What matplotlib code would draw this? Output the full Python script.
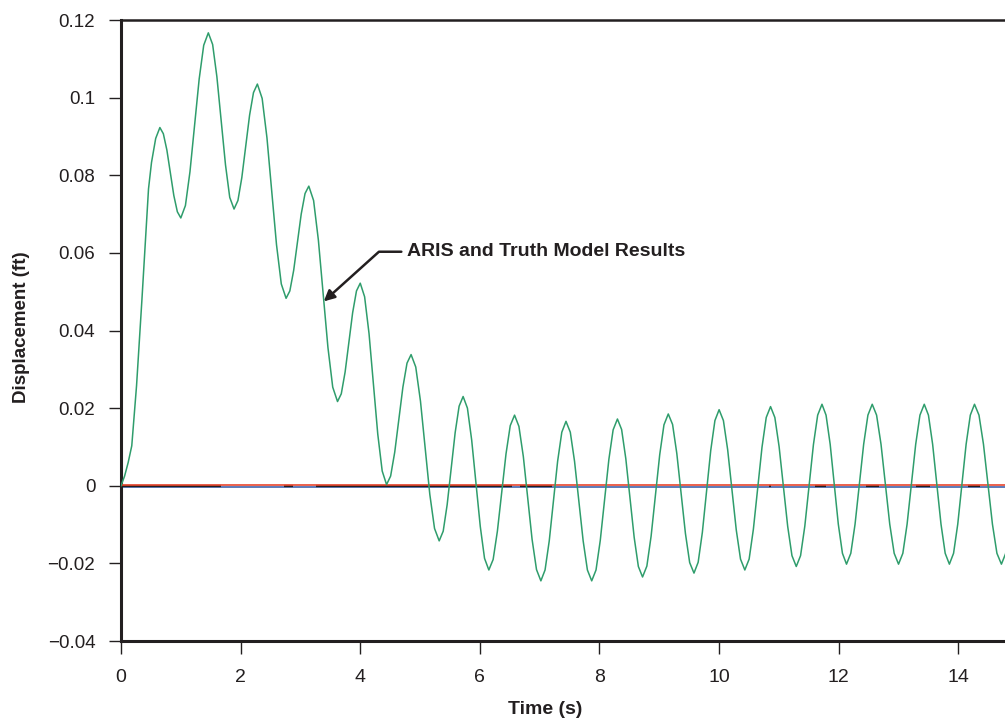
import matplotlib
matplotlib.use("Agg")
import matplotlib.pyplot as plt

# displacement (s, ft)
time = [0.0, 0.06, 0.12, 0.18, 0.26, 0.35, 0.46, 0.51, 0.58, 0.65,
        0.708, 0.767, 0.825, 0.883, 0.942, 1.00,
        1.077, 1.153, 1.23, 1.307, 1.383, 1.46,
        1.532, 1.603, 1.675, 1.747, 1.818, 1.89,
        1.955, 2.02, 2.085, 2.15, 2.215, 2.28,
        2.36, 2.44, 2.52, 2.60, 2.68, 2.76,
        2.823, 2.887, 2.95, 3.013, 3.077, 3.14,
        3.22, 3.30, 3.38, 3.46, 3.54, 3.62,
        3.683, 3.747, 3.81, 3.873, 3.937, 4.0,
        4.073, 4.147, 4.22, 4.293, 4.367, 4.44,
        4.508, 4.577, 4.645, 4.713, 4.782, 4.85,
        4.928, 5.007, 5.085, 5.163, 5.242, 5.32,
        5.387, 5.453, 5.52, 5.587, 5.653, 5.72,
        5.792, 5.863, 5.935, 6.007, 6.078, 6.15,
        6.222, 6.293, 6.365, 6.437, 6.508, 6.58,
        6.653, 6.727, 6.80, 6.873, 6.947, 7.02,
        7.09, 7.16, 7.23, 7.30, 7.37, 7.44,
        7.512, 7.583, 7.655, 7.727, 7.798, 7.87,
        7.942, 8.013, 8.085, 8.157, 8.228, 8.30,
        8.37, 8.44, 8.51, 8.58, 8.65, 8.72,
        8.792, 8.863, 8.935, 9.007, 9.078, 9.15,
        9.222, 9.293, 9.365, 9.437, 9.508, 9.58,
        9.65, 9.72, 9.79, 9.86, 9.93, 10.0,
        10.072, 10.143, 10.215, 10.287, 10.358, 10.43,
        10.502, 10.573, 10.645, 10.717, 10.788, 10.86,
        10.932, 11.003, 11.075, 11.147, 11.218, 11.29,
        11.362, 11.433, 11.505, 11.577, 11.648, 11.72,
        11.788, 11.857, 11.925, 11.993, 12.062, 12.13,
        12.202, 12.273, 12.345, 12.417, 12.488, 12.56,
        12.633, 12.707, 12.78, 12.853, 12.927, 13.0,
        13.072, 13.143, 13.215, 13.287, 13.358, 13.43,
        13.50, 13.57, 13.64, 13.71, 13.78, 13.85,
        13.92, 13.99, 14.06, 14.13, 14.20, 14.27,
        14.345, 14.42, 14.495, 14.57, 14.645, 14.72,
        14.79, 14.86]

disp = [0.0, 0.0025, 0.0060, 0.0103, 0.0258, 0.0480, 0.0765, 0.0833, 0.0895, 0.0923,
        0.0907, 0.0865, 0.0807, 0.0748, 0.0706, 0.0690,
        0.0722, 0.0809, 0.0929, 0.1048, 0.1135, 0.1167,
        0.1137, 0.1054, 0.0940, 0.0827, 0.0743, 0.0713,
        0.0735, 0.0794, 0.0874, 0.0955, 0.1013, 0.1035,
        0.0998, 0.0897, 0.0759, 0.0621, 0.0520, 0.0483,
        0.0502, 0.0555, 0.0628, 0.0700, 0.0753, 0.0772,
        0.0735, 0.0633, 0.0495, 0.0356, 0.0254, 0.0217,
        0.0237, 0.0293, 0.0370, 0.0446, 0.0502, 0.0522,
        0.0487, 0.0392, 0.0263, 0.0133, 0.0038, 0.0003,
        0.0025, 0.0087, 0.0171, 0.0254, 0.0316, 0.0338,
        0.0306, 0.0218, 0.0098, -0.0022, -0.0110, -0.0142,
        -0.0117, -0.0049, 0.0044, 0.0137, 0.0205, 0.0230,
        0.0200, 0.0118, 0.0007, -0.0105, -0.0187, -0.0217,
        -0.0190, -0.0117, -0.0018, 0.0082, 0.0155, 0.0182,
        0.0153, 0.0075, -0.0032, -0.0138, -0.0216, -0.0245,
        -0.0217, -0.0142, -0.0040, 0.0063, 0.0138, 0.0166,
        0.0138, 0.0063, -0.0040, -0.0142, -0.0217, -0.0245,
        -0.0217, -0.0141, -0.0037, 0.0068, 0.0144, 0.0172,
        0.0145, 0.0070, -0.0032, -0.0133, -0.0208, -0.0235,
        -0.0207, -0.0130, -0.0025, 0.0080, 0.0157, 0.0185,
        0.0158, 0.0083, -0.0020, -0.0123, -0.0198, -0.0225,
        -0.0197, -0.0120, -0.0015, 0.0091, 0.0168, 0.0196,
        0.0168, 0.0093, -0.0011, -0.0114, -0.0189, -0.0217,
        -0.0189, -0.0112, -0.0007, 0.0099, 0.0176, 0.0204,
        0.0176, 0.0101, -0.0002, -0.0105, -0.0180, -0.0208,
        -0.0180, -0.0104, 0.0001, 0.0106, 0.0182, 0.0210,
        0.0182, 0.0107, 0.0004, -0.0099, -0.0174, -0.0202,
        -0.0174, -0.0099, 0.0004, 0.0107, 0.0182, 0.0210,
        0.0182, 0.0107, 0.0004, -0.0099, -0.0174, -0.0202,
        -0.0174, -0.0099, 0.0004, 0.0107, 0.0182, 0.0210,
        0.0182, 0.0107, 0.0004, -0.0099, -0.0174, -0.0202,
        -0.0174, -0.0099, 0.0004, 0.0107, 0.0182, 0.0210,
        0.0182, 0.0107, 0.0004, -0.0099, -0.0174, -0.0202,
        -0.0175, -0.0100]

# near-zero series (red / blue) and the short black stretches on zero
zero_time = [0.0, 14.86]
red_disp = [0.0002, 0.0002]
blue_disp = [-0.0003, -0.0003]
black_disp = -0.0001
black_spans = [(0.0, 1.68), (2.73, 2.87), (3.26, 6.53), (6.67, 7.2),
               (10.83, 10.87), (11.6, 11.79), (12.46, 12.68),
               (13.3, 13.53), (14.16, 14.36)]

xticks = [0, 2, 4, 6, 8, 10, 12, 14]
yticks = [-0.04, -0.02, 0, 0.02, 0.04, 0.06, 0.08, 0.1, 0.12]
ytick_labels = ["\u22120.04", "\u22120.02", "0", "0.02", "0.04", "0.06", "0.08", "0.1", "0.12"]

plt.rcParams['font.family'] = ['Liberation Sans', 'DejaVu Sans']
ink = '#231f20'

fig = plt.figure(figsize=(10.05, 7.23), dpi=100)
ax = fig.add_axes([0.1204, 0.1134, 0.8796, 0.8589])

ax.plot(zero_time, blue_disp, color='#4f6fb3', lw=1.3, zorder=2)
for t0, t1 in black_spans:
    ax.plot([t0, t1], [black_disp, black_disp], color=ink, lw=1.6, zorder=3,
            solid_capstyle='butt')
ax.plot(zero_time, red_disp, color='#e8462e', lw=1.2, zorder=4)
ax.plot(time, disp, color='#2f9d6c', lw=1.1, zorder=5)

ax.annotate('ARIS and Truth Model Results', xy=(3.39, 0.0475), xytext=(4.78, 0.0603),
            ha='left', va='center', fontsize=14, fontweight='bold', color=ink,
            arrowprops=dict(arrowstyle='-|>', connectionstyle='angle,angleA=0,angleB=42',
                            relpos=(0, 0.5), color=ink, lw=1.8,
                            mutation_scale=16, shrinkA=2, shrinkB=0))

ax.set_xlim(0, 14.78)
ax.set_ylim(-0.04, 0.12)
ax.set_xticks(xticks)
ax.set_yticks(yticks)
ax.set_yticklabels(ytick_labels)

ax.spines['right'].set_visible(False)
for s in ['left', 'bottom']:
    ax.spines[s].set_linewidth(2.2)
    ax.spines[s].set_color(ink)
ax.spines['top'].set_linewidth(1.8)
ax.spines['top'].set_color(ink)

ax.tick_params(axis='y', direction='out', length=9, width=1, pad=9.5,
               labelsize=13.5, colors=ink)
ax.tick_params(axis='x', direction='out', length=9, width=1, pad=11,
               labelsize=14, colors=ink)

ax.set_xlabel('Time (s)', fontsize=14, fontweight='bold', color=ink, va='center')
ax.xaxis.set_label_coords(0.48, -0.11)
ax.set_ylabel('Displacement (ft)', fontsize=13.5, fontweight='bold', color=ink, va='center')
ax.yaxis.set_label_coords(-0.112, 0.505)

fig.savefig('out.png', dpi=100)
